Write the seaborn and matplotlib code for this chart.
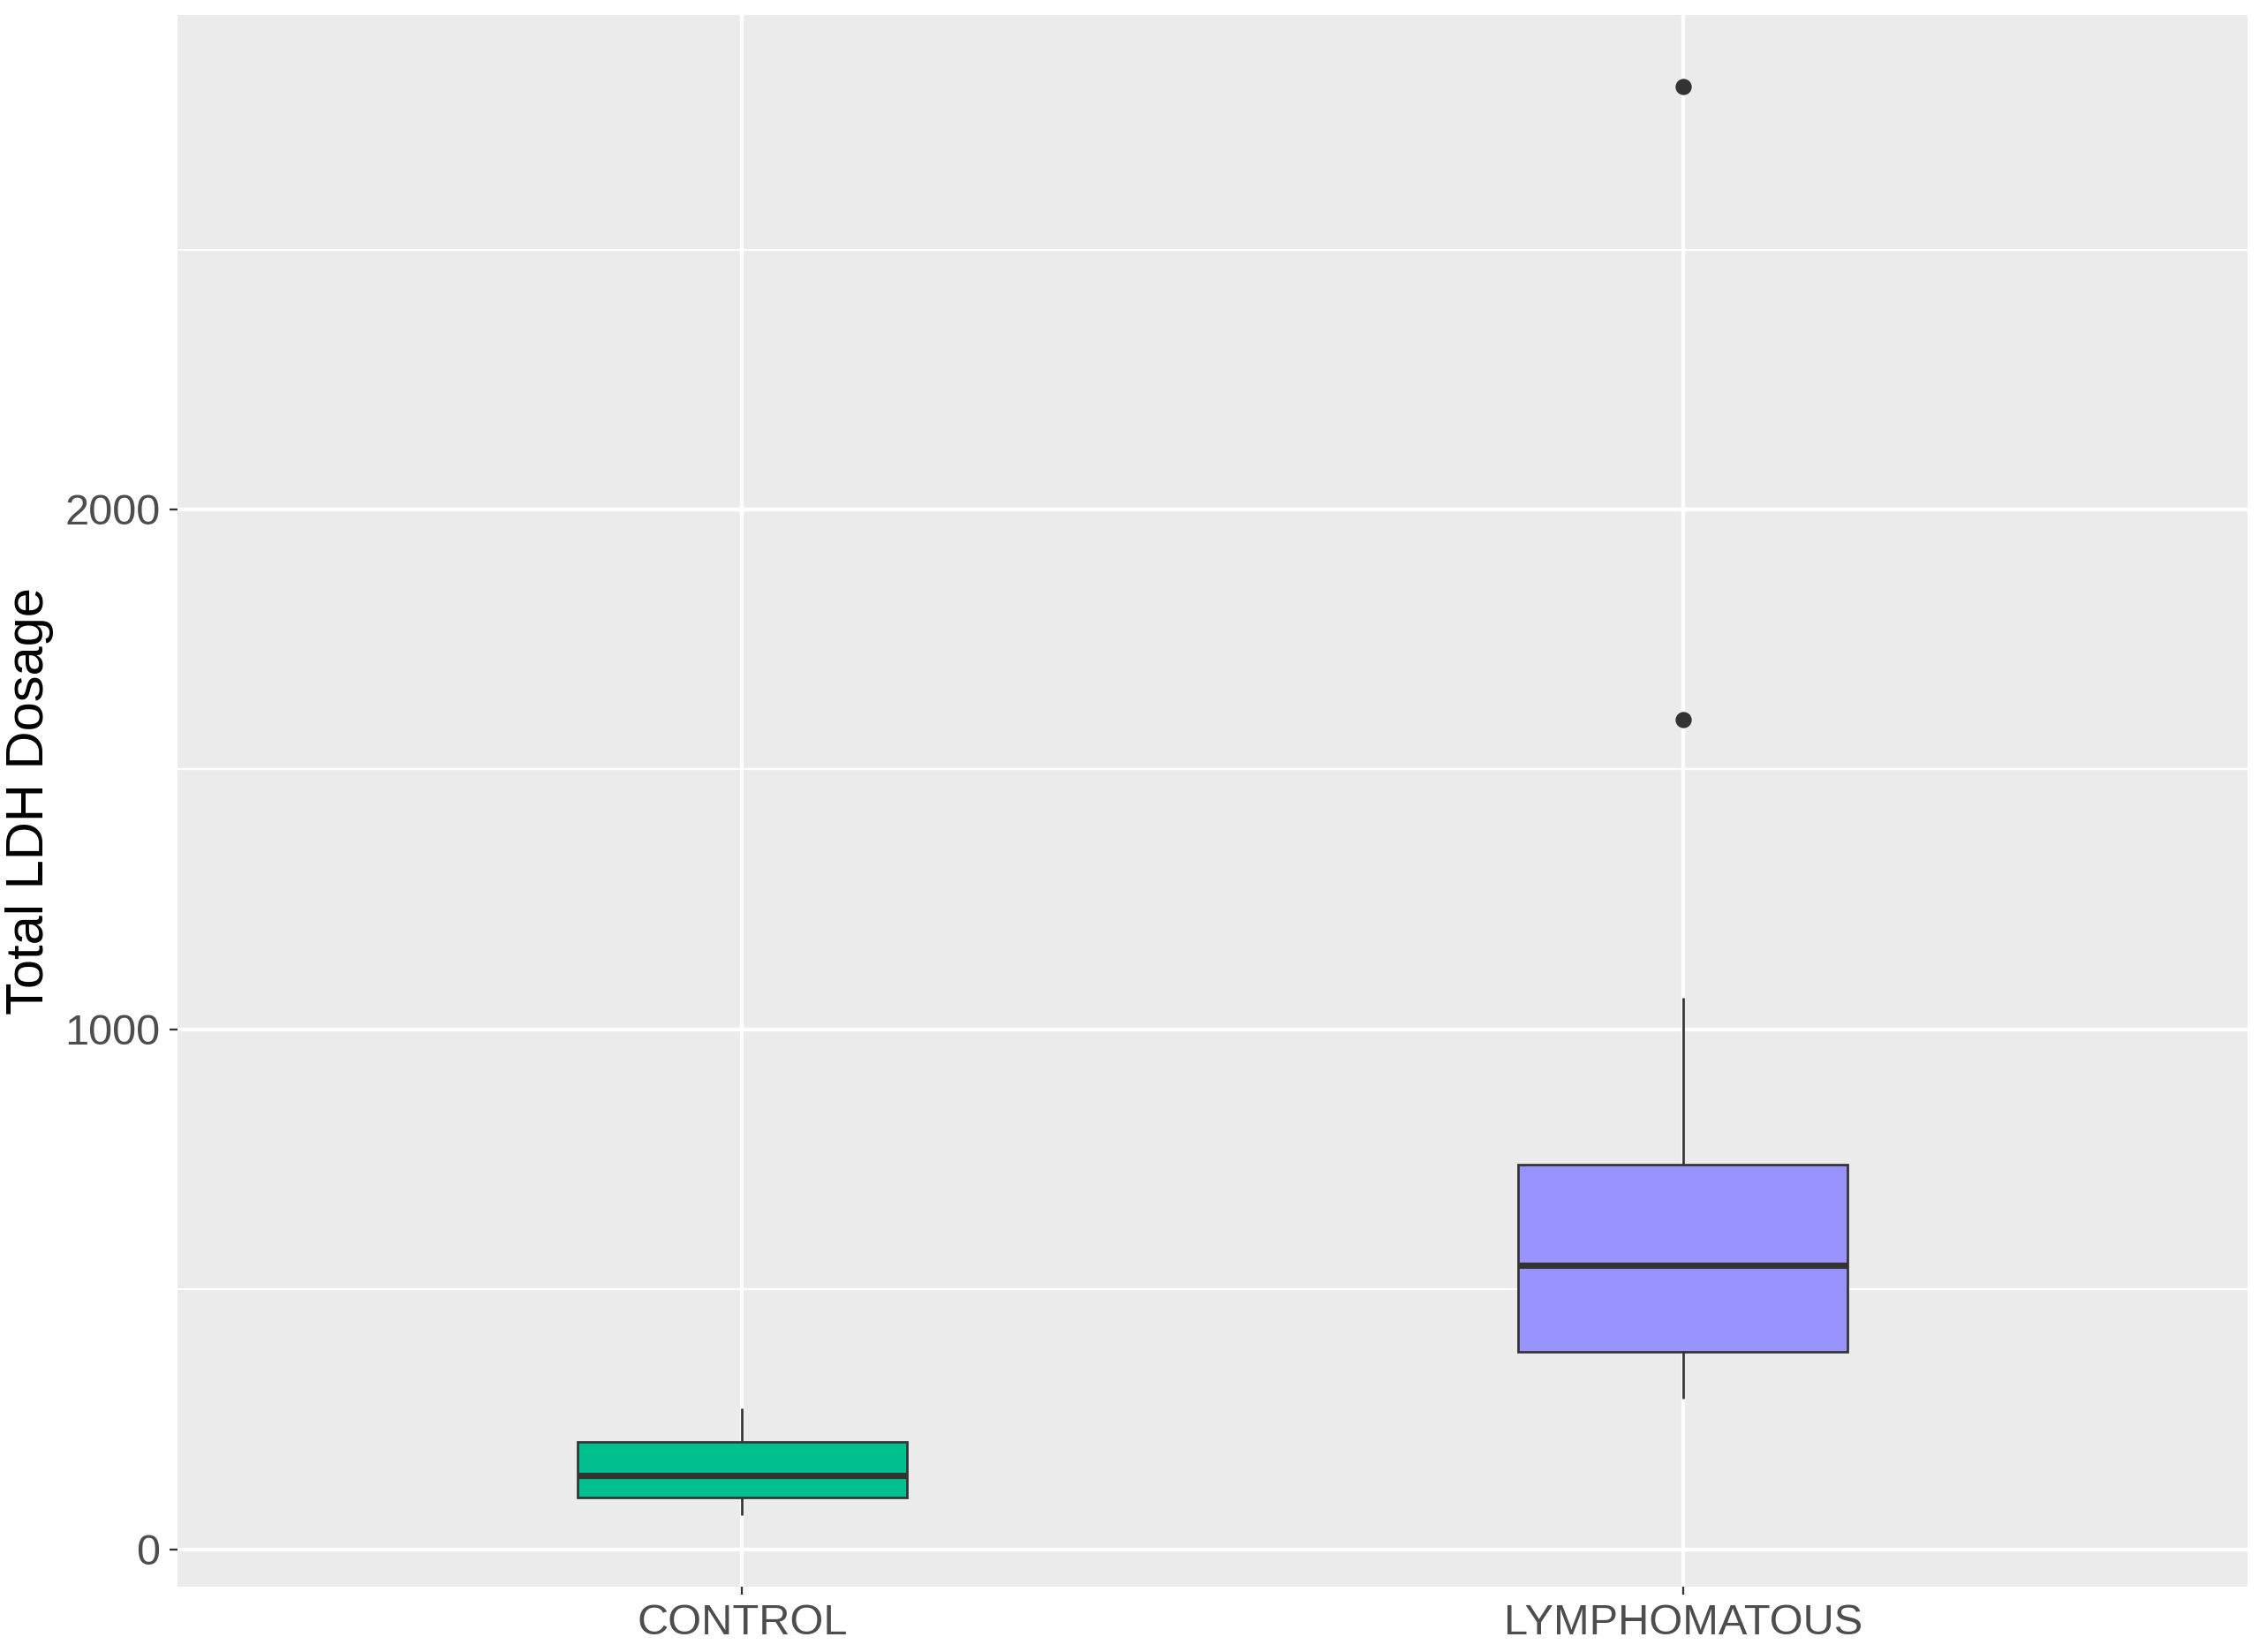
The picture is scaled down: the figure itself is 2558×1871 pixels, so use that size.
import numpy as np
import pandas as pd
import matplotlib
matplotlib.use("Agg")
import matplotlib.pyplot as plt
import seaborn as sns
from matplotlib.ticker import FixedLocator

# ---- data ----
categories = ["CONTROL", "LYMPHOMATOUS"]
control_values = [66, 85, 100, 120, 142, 175, 207, 240, 271]
lymphomatous_values = [289, 320, 350, 379, 420, 500, 546, 600, 680, 739, 1061, 1596, 2814]
fill_colors = ["#00C08F", "#9993FF"]
y_ticks = [0, 1000, 2000]
y_minor = [500, 1500, 2500]
y_label = "Total LDH Dosage"

df = pd.DataFrame({
    "group": [categories[0]] * len(control_values) + [categories[1]] * len(lymphomatous_values),
    "value": control_values + lymphomatous_values,
})

sns.set_theme(style="white")
plt.rcParams["font.family"] = ["Liberation Sans", "DejaVu Sans"]

DPI = 300
fig = plt.figure(figsize=(2558 / DPI, 1871 / DPI), dpi=DPI)
ax = fig.add_axes([201 / 2558, 74.3 / 1871, (2545 - 201) / 2558, (1796.7 - 16.7) / 1871])
ax.set_facecolor("#EBEBEB")

sns.boxplot(
    data=df, x="group", y="value", hue="group", order=categories, hue_order=categories,
    palette=fill_colors, width=0.35, linewidth=0.65, linecolor="#333333",
    showcaps=False, whis=1.5, legend=False, saturation=1,
    flierprops=dict(marker="o", markerfacecolor="#333333", markeredgecolor="#333333",
                    markersize=3.4),
    medianprops=dict(linewidth=1.7, color="#333333"),
    ax=ax,
)

# ggplot-like scales
vals = np.array(df["value"], dtype=float)
rng = vals.max() - vals.min()
ax.set_ylim(vals.min() - 0.05 * rng, vals.max() + 0.05 * rng)
ax.set_xlim(-0.6, len(categories) - 1 + 0.6)
ax.yaxis.set_major_locator(FixedLocator(y_ticks))
ax.yaxis.set_minor_locator(FixedLocator(y_minor))
ax.set_yticklabels([str(t) for t in y_ticks])

ax.set_axisbelow(True)
ax.grid(False)
ax.yaxis.grid(True, which="major", color="white", linewidth=1.05)
ax.yaxis.grid(True, which="minor", color="white", linewidth=0.55)
ax.xaxis.grid(True, which="major", color="white", linewidth=1.05)

for s in ax.spines.values():
    s.set_visible(False)

ax.tick_params(axis="both", which="major", length=2.2, width=0.55, color="#333333",
               labelcolor="#4D4D4D", labelsize=11.7, pad=2.5)
ax.tick_params(axis="y", which="minor", length=0)
ax.tick_params(axis="both", which="both", bottom=True, left=True)

ax.set_xlabel("")
ax.set_ylabel(y_label, fontsize=14.3, color="black", labelpad=3)

fig.savefig("out.png", dpi=DPI)
